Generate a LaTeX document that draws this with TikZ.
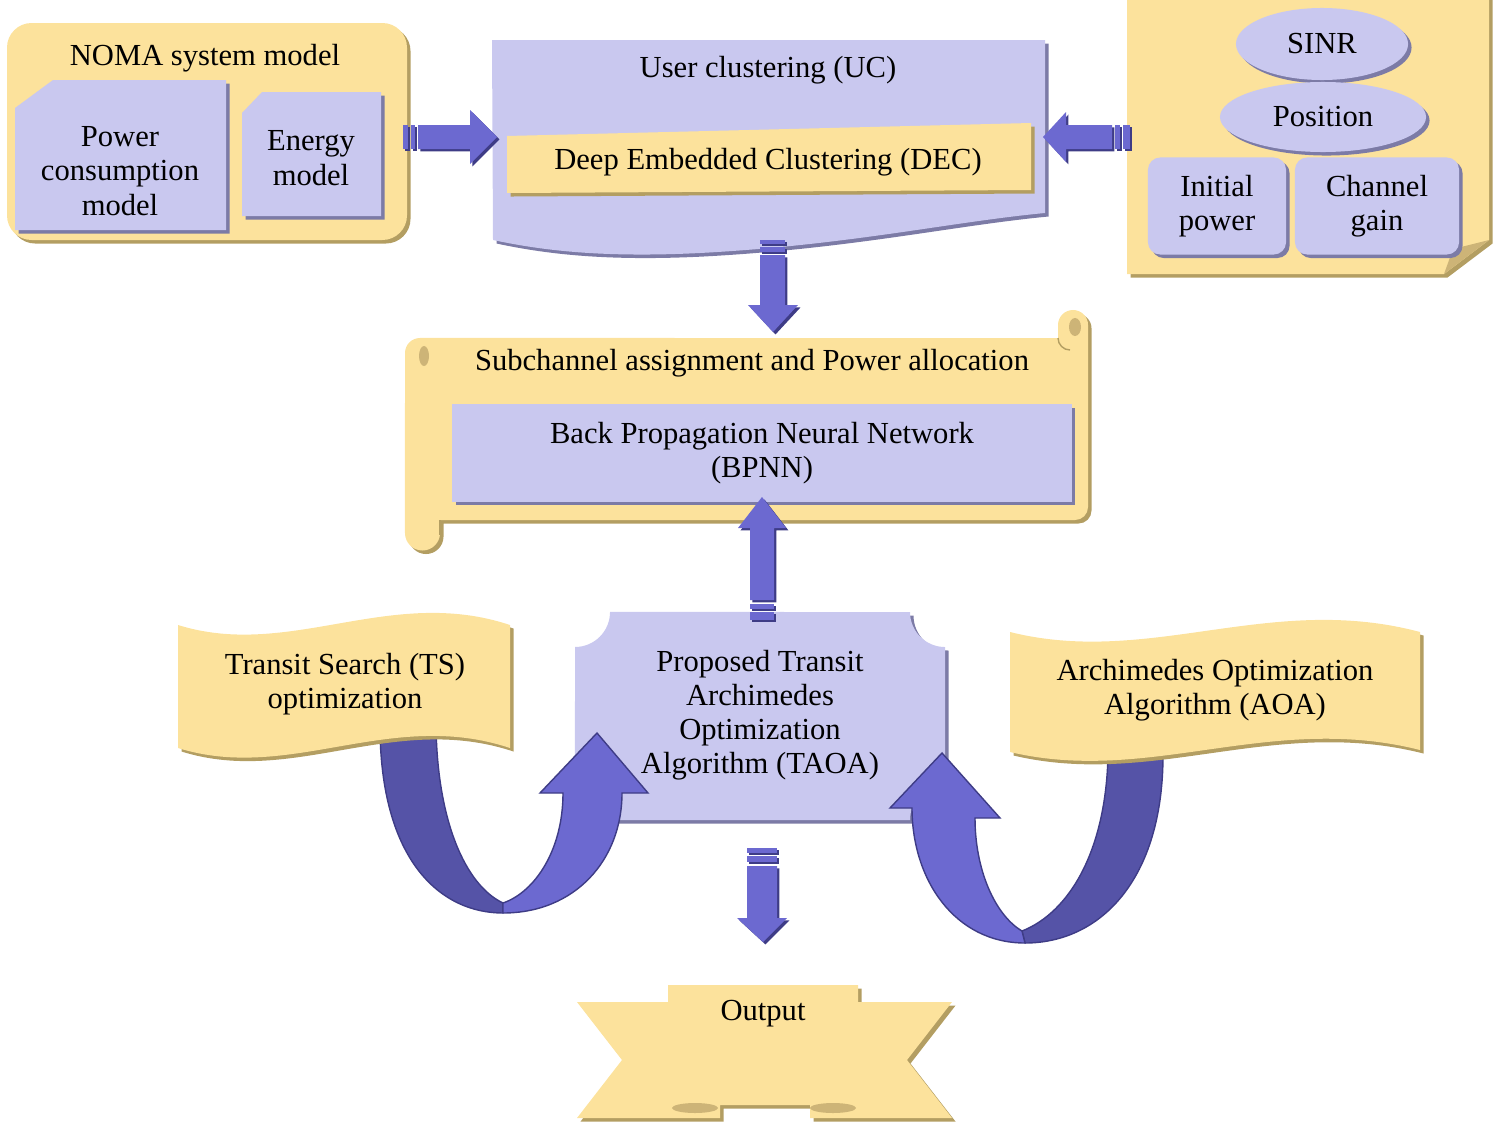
\documentclass[tikz,border=0pt]{standalone}
\usepackage{fontspec}
\setmainfont{Liberation Serif}
\usetikzlibrary{shadows,shapes.geometric}
\definecolor{yel}{HTML}{FCE29C}
\definecolor{yelsh}{HTML}{B39E62}
\definecolor{yeldark}{HTML}{CDB477}
\definecolor{lav}{HTML}{C9C8EF}
\definecolor{lavsh}{HTML}{7C7BA6}
\definecolor{arr}{HTML}{6C69D0}
\definecolor{arrsh}{HTML}{3E3C86}
\definecolor{arrdark}{HTML}{5553A7}
\tikzset{
 yshape/.style={fill=yel, drop shadow={shadow xshift=1pt, shadow yshift=-1pt, fill=yelsh, opacity=1}},
 lshape/.style={fill=lav, drop shadow={shadow xshift=1pt, shadow yshift=-1pt, fill=lavsh, opacity=1}},
 ashape/.style={fill=arr, drop shadow={shadow xshift=0.7pt, shadow yshift=-0.7pt, fill=arrsh, opacity=1}},
 bandlight/.style={fill=arr, draw=arrsh, line width=0.4pt},
 banddark/.style={fill=arrdark, draw=arrsh, line width=0.4pt},
 txt/.style={font=\fontsize{8.7}{9.8}\selectfont, align=center, inner sep=0pt},
}
\begin{document}
\begin{tikzpicture}[x=0.01cm, y=-0.01cm]
\useasboundingbox (0,0) rectangle (1500,1124);

% ---------- NOMA system model ----------
\path[yshape, rounded corners=7pt] (7,23) rectangle (407,240);
\node[txt] (noma) at (205,58) {NOMA system model};
\path[lshape] (15,108) -- (53,80) -- (226,80) -- (226,230) -- (15,230) -- cycle;
\node[txt] (pcm) at (120,171) {Power\\consumption\\model};
\path[lshape] (242,113) -- (262,92) -- (381,92) -- (381,216) -- (242,216) -- cycle;
\node[txt] (em) at (311,158) {Energy\\model};

% ---------- User clustering ----------
\path[lshape] (492,40) -- (1045,40) -- (1045,213) .. controls (950,222) and (850,245) .. (700,253) .. controls (600,258) and (540,250) .. (493,240) -- cycle;
\node[txt] (uc) at (768,70) {User clustering (UC)};
\path[yshape] (507,136) -- (1031,123) -- (1031,190) -- (507,193) -- cycle;
\node[txt] (dec) at (768,162) {Deep Embedded Clustering (DEC)};

% ---------- right parameter box ----------
\path[yshape] (1127,-5) -- (1489,-5) -- (1489,240) -- (1444,274) -- (1127,274) -- cycle;
\path[fill=yeldark] (1444,274) -- (1489,240) -- (1453,249) -- cycle;
\node[lshape, ellipse, minimum width=1.72cm, minimum height=0.72cm, txt] (sinr) at (1322,44) {SINR};
\node[lshape, ellipse, minimum width=2.06cm, minimum height=0.70cm, txt] (pos) at (1323,117) {Position};
\node[lshape, rounded corners=3.5pt, minimum width=1.38cm, minimum height=0.97cm, txt] (ip) at (1217,206) {Initial\\power};
\node[lshape, rounded corners=3.5pt, minimum width=1.64cm, minimum height=0.97cm, txt] (cg) at (1377,206) {Channel\\gain};

% ---------- horizontal arrows ----------
\path[ashape] (418,125) -- (470,125) -- (470,110) -- (497,137) -- (470,164) -- (470,149) -- (418,149) -- cycle;
\path[ashape] (403,125) rectangle (408,149);
\path[ashape] (411,125) rectangle (415,149);
\path[ashape] (1112,125) -- (1066,125) -- (1066,112) -- (1043,137) -- (1066,162) -- (1066,149) -- (1112,149) -- cycle;
\path[ashape] (1115,125) rectangle (1120,149);
\path[ashape] (1123,125) rectangle (1130,149);

% ---------- down arrow UC -> scroll ----------
\path[ashape] (760,240) rectangle (785,244);
\path[ashape] (760,247) rectangle (785,252);
\path[ashape] (760,255) -- (785,255) -- (785,305) -- (798,305) -- (773,332) -- (748,305) -- (760,305) -- cycle;

% ---------- scroll ----------
\path[yshape] (405,353) arc[start angle=180,end angle=90,radius=0.15cm]
  -- (1058,338) -- (1058,325) arc[start angle=180,end angle=0,radius=0.15cm]
  -- (1088,507) arc[start angle=0,end angle=-90,radius=0.13cm]
  -- (440,520) -- (440,533) arc[start angle=0,end angle=-180,radius=0.175cm]
  -- cycle;
\path[fill=yeldark] (424,356) ellipse [x radius=0.05cm, y radius=0.1cm];
\path[fill=yeldark] (1075,327) ellipse [x radius=0.06cm, y radius=0.09cm];
\draw[yelsh, line width=0.4pt] (1058,338) arc[start angle=180,end angle=270,radius=0.12cm];
\draw[yelsh, line width=0.5pt] (440,520) -- (440,535);
\node[txt] (sub) at (752,363) {Subchannel assignment and Power allocation};
\node[lshape, minimum width=6.19cm, minimum height=0.97cm, txt] (bpnn) at (762,453) {Back Propagation Neural Network\\(BPNN)};

% ---------- TAOA ----------
\path[lshape] (575,647) arc[start angle=-90,end angle=0,radius=0.35cm]
  -- (910,612) arc[start angle=180,end angle=270,radius=0.35cm]
  -- (945,785) arc[start angle=90,end angle=180,radius=0.35cm]
  -- (610,820) arc[start angle=0,end angle=90,radius=0.35cm]
  -- cycle;
\node[txt, font=\fontsize{8.7}{9.7}\selectfont] (taoa) at (760,715) {Proposed Transit\\Archimedes\\Optimization\\Algorithm (TAOA)};

% ---------- up arrow TAOA -> BPNN ----------
\path[ashape] (750,600) -- (750,528) -- (738,528) -- (762,497) -- (786,528) -- (774,528) -- (774,600) -- cycle;
\path[ashape] (750,604) rectangle (774,609);
\path[ashape] (750,612) rectangle (774,620);

% ---------- curved arrow TS -> TAOA ----------
\path[banddark] (380,725) .. controls (380,860) and (440,913) .. (503,913) -- (503,903) .. controls (465,885) and (437,820) .. (436,725) -- cycle;
\path[bandlight] (503,913) .. controls (575,913) and (622,860) .. (622,793) -- (648,793) -- (597,733) -- (540,793) -- (563,793) .. controls (563,850) and (535,892) .. (503,903) -- cycle;

% ---------- curved arrow AOA -> TAOA ----------
\path[banddark] (1163,755) .. controls (1163,880) and (1100,943) .. (1025,943) -- (1022,931) .. controls (1070,912) and (1106,850) .. (1108,755) -- cycle;
\path[bandlight] (1025,943) .. controls (955,943) and (912,880) .. (912,808) -- (890,808) -- (942,753) -- (1000,818) -- (975,818) .. controls (975,870) and (995,915) .. (1022,931) -- cycle;

% ---------- banners ----------
\path[yshape] (178,625) .. controls (290,660) and (390,585) .. (510,625) -- (510,748) .. controls (390,708) and (290,783) .. (178,748) -- cycle;
\node[txt] (ts) at (345,684) {Transit Search (TS)\\optimization};
\path[yshape] (1010,632) .. controls (1150,667) and (1270,592) .. (1420,632) -- (1420,750) .. controls (1270,712) and (1150,785) .. (1010,752) -- cycle;
\node[txt] (aoa) at (1215,690) {Archimedes Optimization\\Algorithm (AOA)};

% ---------- down arrow TAOA -> Output ----------
\path[ashape] (747,848) rectangle (777,853);
\path[ashape] (747,856) rectangle (777,862);
\path[ashape] (747,866) -- (777,866) -- (777,918) -- (787,918) -- (763,942) -- (737,918) -- (747,918) -- cycle;

% ---------- Output ribbon ----------
\path[yshape] (577,1002) -- (668,1002) -- (668,985) -- (858,985) -- (858,1002) -- (952,1002) -- (907,1060) -- (952,1118) -- (810,1118) -- (810,1105) -- (720,1105) -- (720,1118) -- (577,1118) -- (622,1060) -- cycle;
\path[fill=yeldark] (695,1108) ellipse [x radius=0.23cm, y radius=0.05cm];
\path[fill=yeldark] (833,1108) ellipse [x radius=0.23cm, y radius=0.05cm];
\node[txt] (out) at (763,1014) {Output};
\end{tikzpicture}
\end{document}
